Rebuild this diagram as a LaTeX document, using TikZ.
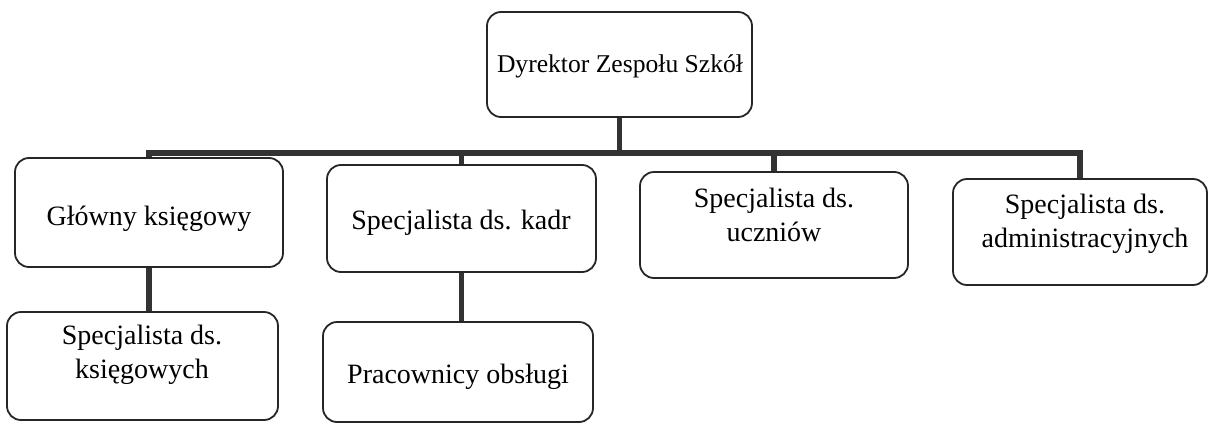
\documentclass[tikz,border=0pt]{standalone}
\usepackage{fontspec}
\setmainfont{Liberation Serif}
\usetikzlibrary{fit}
\begin{document}
\begin{tikzpicture}[x=0.5pt,y=-0.5pt,
  box/.style={draw=black!85, line width=0.9pt, rounded corners=7pt, inner sep=0pt},
  lbl/.style={font=\fontsize{14}{17}\selectfont, align=center, inner sep=0pt},
  link/.style={draw=black!80, line width=2.9pt, line join=miter}]
\useasboundingbox (0,0) rectangle (1209,423);
% boxes
\node[box, fit={(487,12) (752,117)}] (dyrB) {};
\node[box, fit={(15,158) (283,267)}] (glB) {};
\node[box, fit={(327,165) (596,272)}] (kadB) {};
\node[box, fit={(640,172) (908,278)}] (uczB) {};
\node[box, fit={(953,179) (1207,285)}] (admB) {};
\node[box, fit={(7,312) (278,420)}] (ksB) {};
\node[box, fit={(323,322) (593,422)}] (proB) {};
% texts
\node[lbl, font=\fontsize{12.8}{15}\selectfont] (dyr) at (620,66) {Dyrektor Zespołu Szkół};
\node[lbl] (gl) at (149,219) {Główny księgowy};
\node[lbl] (kad) at (461,223) {Specjalista ds. kadr};
\node[lbl] (ucz) at (774,215) {Specjalista ds.\\uczniów};
\node[lbl] (adm) at (1085,224) {Specjalista ds.\\administracyjnych};
\node[lbl] (ks) at (142,355) {Specjalista ds.\\księgowych};
\node[lbl] (pro) at (458,377) {Pracownicy obsługi};
% connectors
\coordinate (bar) at (0,153);
\draw[link] (glB.north) -- (glB.north |- bar) -- (admB.north |- bar) -- (admB.north);
\draw[link] (dyrB.south) -- (dyrB.south |- bar);
\draw[link] (kadB.north) -- (kadB.north |- bar);
\draw[link] (uczB.north) -- (uczB.north |- bar);
\draw[link] (glB.south) -- (glB.south |- ksB.north);
\draw[link] (kadB.south) -- (kadB.south |- proB.north);
\end{tikzpicture}
\end{document}
